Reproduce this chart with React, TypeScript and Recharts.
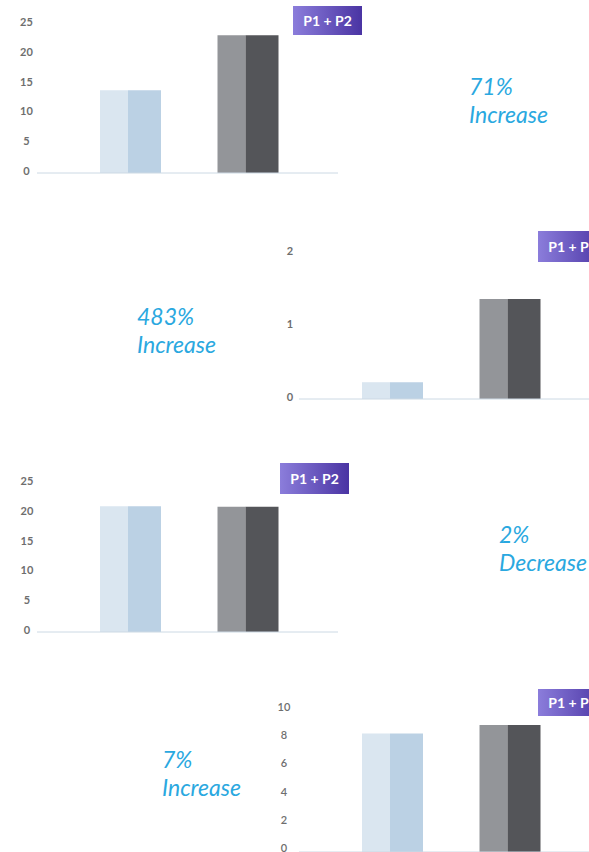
import { BarChart, Bar, Cell, XAxis, YAxis } from 'recharts';

// two bar groups per panel, each group = first + second bar
const categories = ['P1', 'P2'];

const salesFirst = [13.9, 23.1];
const salesSecond = [13.9, 23.1];
const salesTicks = [0, 5, 10, 15, 20, 25];

const leadsFirst = [0.23, 1.37];
const leadsSecond = [0.23, 1.37];
const leadsTicks = [0, 1, 2];

const ordersFirst = [21.1, 21.0];
const ordersSecond = [21.1, 21.0];
const ordersTicks = [0, 5, 10, 15, 20, 25];

const visitsFirst = [8.4, 9.0];
const visitsSecond = [8.4, 9.0];
const visitsTicks = [0, 2, 4, 6, 8, 10];

const headlines = [
  { pct: '71%', word: 'Increase' },
  { pct: '483%', word: 'Increase' },
  { pct: '2%', word: 'Decrease' },
  { pct: '7%', word: 'Increase' },
];

const firstColors = ['#dae6f0', '#939599'];
const secondColors = ['#bbd1e4', '#545559'];

const BLUE = '#2aa8e0';

interface PanelProps {
  left: number;
  top: number;
  height: number;
  marginTop: number;
  first: number[];
  second: number[];
  ticks: number[];
  labelGap: number;
  labelShift?: number;
  labelWeight?: number;
}

function Panel({ left, top, height, marginTop, first, second, ticks, labelGap, labelShift = -2, labelWeight = 700 }: PanelProps) {
  const data = categories.map((name, i) => ({ name, a: first[i], b: second[i] }));
  return (
    <div style={{ position: 'absolute', left, top, fontFamily: 'Lato', fontWeight: labelWeight }}>
      <BarChart
        width={345}
        height={height}
        data={data}
        barGap={0}
        margin={{ top: marginTop, right: 7, left: 0, bottom: 18 }}
      >
        <XAxis
          dataKey="name"
          tick={false}
          tickLine={false}
          height={1}
          axisLine={{ stroke: '#ccd9e4' }}
          padding={{ left: 35, right: 31 }}
        />
        <YAxis
          width={37}
          domain={[0, ticks[ticks.length - 1]]}
          ticks={ticks}
          axisLine={false}
          tickLine={false}
          tickSize={0}
          tickMargin={labelGap}
          tick={{ fill: '#6e6e6e', fontSize: 11, fontWeight: labelWeight, fontFamily: 'Lato', textAnchor: 'middle', dy: labelShift }}
        />
        <Bar dataKey="a" barSize={28} isAnimationActive={false}>
          {data.map((d, i) => (
            <Cell key={`a-${i}`} fill={firstColors[i]} />
          ))}
        </Bar>
        <Bar dataKey="b" barSize={33} isAnimationActive={false}>
          {data.map((d, i) => (
            <Cell key={`b-${i}`} fill={secondColors[i]} />
          ))}
        </Bar>
      </BarChart>
    </div>
  );
}

function Badge({ left, top, height }: { left: number; top: number; height: number }) {
  return (
    <div
      style={{
        position: 'absolute',
        left,
        top,
        width: 69,
        height,
        lineHeight: `${height}px`,
        background: 'linear-gradient(to right, #8b7ddb, #4a34a3)',
        color: '#fff',
        fontFamily: 'Lato',
        fontWeight: 700,
        fontSize: 14,
        textAlign: 'center',
      }}
    >
      P1 + P2
    </div>
  );
}

function Headline({ left, top, idx }: { left: number; top: number; idx: number }) {
  return (
    <div
      style={{
        position: 'absolute',
        left,
        top,
        color: BLUE,
        fontFamily: 'Lato',
        fontStyle: 'italic',
        fontSize: 23,
        lineHeight: '28px',
      }}
    >
      <div>{headlines[idx].pct}</div>
      <div>{headlines[idx].word}</div>
    </div>
  );
}

export default function App() {
  return (
    <div
      style={{
        position: 'absolute',
        left: 0,
        top: 0,
        width: 589,
        height: 852,
        overflow: 'hidden',
        background: '#fff',
      }}
    >
      <Panel left={0} top={0} height={192} marginTop={24} first={salesFirst} second={salesSecond} ticks={salesTicks} labelGap={10.5} />
      <Badge left={293} top={6} height={29} />
      <Headline left={469} top={72} idx={0} />

      <Panel left={262} top={230} height={188} marginTop={23} first={leadsFirst} second={leadsSecond} ticks={leadsTicks} labelGap={9} />
      <Badge left={538} top={231} height={31} />
      <Headline left={137} top={302} idx={1} />

      <Panel left={262} top={690} height={181} marginTop={21} first={visitsFirst} second={visitsSecond} ticks={visitsTicks} labelGap={15} labelShift={-4} labelWeight={600} />
      <Badge left={538} top={689} height={27} />
      <Headline left={162} top={745} idx={3} />

      <Panel left={0} top={460} height={191} marginTop={23} first={ordersFirst} second={ordersSecond} ticks={ordersTicks} labelGap={10} />
      <Badge left={280} top={463} height={31} />
      <Headline left={499} top={520} idx={2} />
    </div>
  );
}
